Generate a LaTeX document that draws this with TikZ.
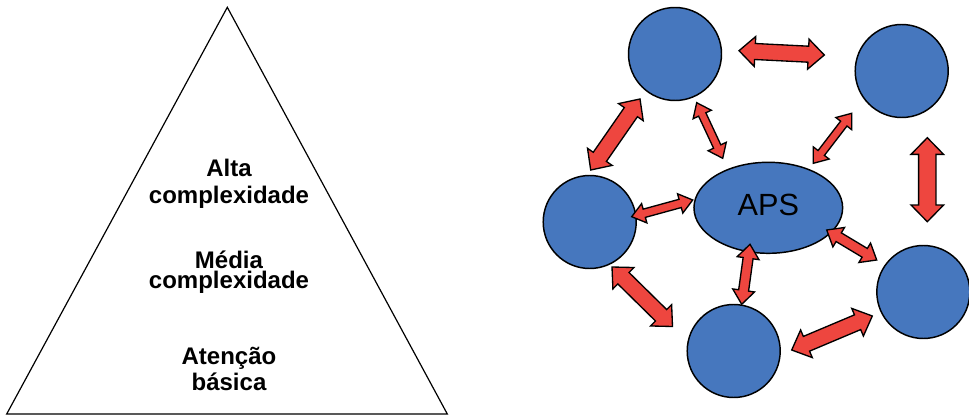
\documentclass[tikz,border=0pt]{standalone}
\usepackage{fontspec}
\setmainfont{Liberation Sans}
\usetikzlibrary{calc,shapes.geometric}
\definecolor{nodeblue}{RGB}{70,119,190}
\definecolor{arrowred}{RGB}{238,70,63}
% #1 tip A, #2 tip B, #3 shaft half width, #4 head half width, #5 head length
\newcommand{\blockarrow}[5]{%
  \coordinate (hA) at ($(#1)!#5!(#2)$);
  \coordinate (hB) at ($(#2)!#5!(#1)$);
  \draw[blockarr] (#1) -- ($(hA)!#4!90:(#2)$) -- ($(hA)!#3!90:(#2)$)
    -- ($(hB)!#3!-90:(#1)$) -- ($(hB)!#4!-90:(#1)$) -- (#2)
    -- ($(hB)!#4!90:(#1)$) -- ($(hB)!#3!90:(#1)$)
    -- ($(hA)!#3!-90:(#2)$) -- ($(hA)!#4!-90:(#2)$) -- cycle;}
\tikzset{
  blockarr/.style={fill=arrowred, draw=black, line width=1pt, line join=miter},
  ball/.style={circle, fill=nodeblue, draw=black, line width=1.1pt, minimum size=69.75pt, inner sep=0pt},
  hub/.style={ellipse, fill=nodeblue, draw=black, line width=1.1pt, minimum width=111.5pt, minimum height=68.25pt, inner sep=0pt, font=\fontsize{23}{27}\selectfont},
  level/.style={anchor=base, inner sep=0pt, align=center, font=\fontsize{18}{20}\selectfont\bfseries}
}
\begin{document}
\begin{tikzpicture}[x=0.75pt,y=-0.75pt]
\useasboundingbox (0,0) rectangle (969,416);
% pyramid
\coordinate (apex) at (227.3,7.3);
\coordinate (bl) at (6.7,414);
\coordinate (br) at (447.3,414);
\draw[line width=0.9pt] (apex) -- (bl) -- (br) -- cycle;
% base anchor = baseline of the last line
\node[level] (alta) at (229,203.3) {Alta\\complexidade};
\node[level] (media) at (229,288) {Média\\[-5pt]complexidade};
\node[level] (basica) at (229,390.7) {Atenção\\básica};
% network
\node[ball] (c1) at (675,54) {};
\node[ball] (c2) at (901.7,71) {};
\node[ball] (c3) at (589.7,222) {};
\node[ball] (c4) at (733.7,351) {};
\node[ball] (c5) at (923.3,292) {};
\node[hub] (aps) at (768.3,207.8) {\raisebox{4pt}{APS}};
% arrow tips
\coordinate (a1s) at (739,50.7);   \coordinate (a1e) at (824.3,55);
\coordinate (a2s) at (640,99);     \coordinate (a2e) at (590.7,170);
\coordinate (a3s) at (696.7,102.7);\coordinate (a3e) at (722.7,158.3);
\coordinate (a4s) at (851.7,113.3);\coordinate (a4e) at (813.3,163.3);
\coordinate (a5s) at (927.3,137.7);\coordinate (a5e) at (927.3,221.7);
\coordinate (a6s) at (631.7,216.7);\coordinate (a6e) at (692.7,200);
\coordinate (a7s) at (750,244.3);  \coordinate (a7e) at (741.7,304.3);
\coordinate (a8s) at (826.7,230);  \coordinate (a8e) at (876.7,260);
\coordinate (a9s) at (612,267);    \coordinate (a9e) at (672.5,326.5);
\coordinate (a10s) at (791.7,350); \coordinate (a10e) at (872.3,316);
\blockarrow{a1s}{a1e}{6pt}{11.25pt}{12pt}
\blockarrow{a2s}{a2e}{6pt}{11.25pt}{12pt}
\blockarrow{a3s}{a3e}{3pt}{7.5pt}{9.75pt}
\blockarrow{a4s}{a4e}{3pt}{7.5pt}{9.75pt}
\blockarrow{a5s}{a5e}{6.5pt}{12.2pt}{12.5pt}
\blockarrow{a6s}{a6e}{3.2pt}{7.5pt}{9.75pt}
\blockarrow{a7s}{a7e}{3.75pt}{8.25pt}{10.5pt}
\blockarrow{a8s}{a8e}{3.8pt}{8.5pt}{10.5pt}
\blockarrow{a9s}{a9e}{6pt}{11.25pt}{12pt}
\blockarrow{a10s}{a10e}{6pt}{11.25pt}{12pt}
\end{tikzpicture}
\end{document}
